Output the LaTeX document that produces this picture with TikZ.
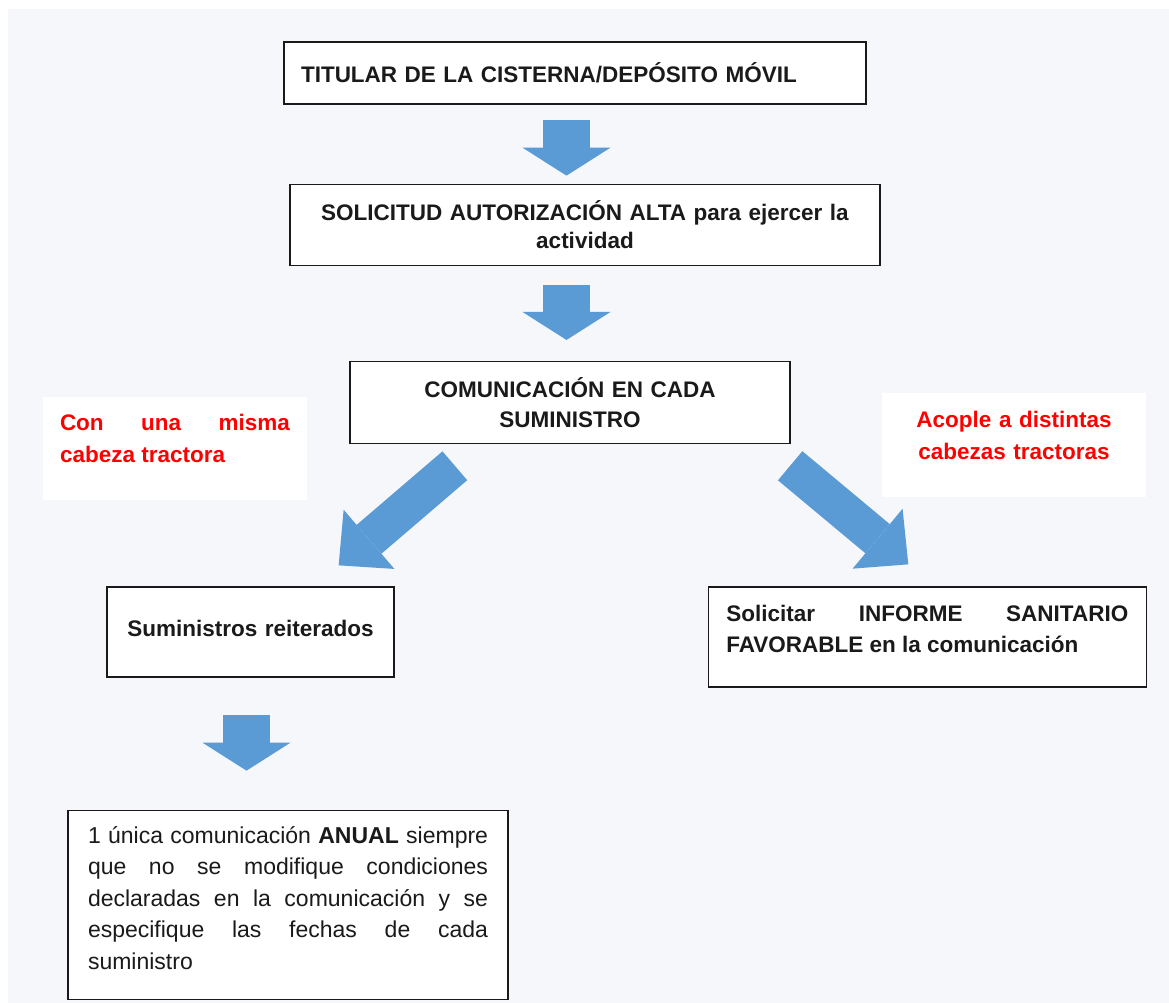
\documentclass[tikz,border=0pt]{standalone}
\usepackage{fontspec}
\setmainfont{Liberation Sans}
\usetikzlibrary{positioning, arrows.meta}

\definecolor{arrowblue}{RGB}{91,155,213}
\definecolor{panelgray}{RGB}{245,247,251}
\definecolor{notered}{RGB}{255,0,0}
\definecolor{inkblack}{RGB}{26,26,26}

\newcommand{\padbelow}[1]{\rule[-#1]{0pt}{#1}}

\begin{document}
\begin{tikzpicture}[x=1pt, y=-1pt,
    every node/.style={inner ysep=0pt},
    box/.style={draw=inkblack, line width=1.3pt, fill=white, inner xsep=17pt, text=inkblack, font=\fontsize{23}{31.5}\selectfont},
    strongbox/.style={box, font=\fontsize{22.5}{30}\selectfont\bfseries},
    note/.style={fill=white, inner xsep=17pt, text=notered, text width=230pt, minimum height=103pt, font=\fontsize{22.5}{32}\selectfont\bfseries},
    downarrow/.style={draw=arrowblue, line width=47pt, -{Triangle[length=28pt 0, width=88pt 0, line width=0pt 0, fill=arrowblue]}},
    sidearrow/.style={draw=arrowblue, line width=38pt, -{Triangle[length=40pt 0, width=78pt 0, line width=0pt 0, fill=arrowblue]}}]

\useasboundingbox (0,0) rectangle (1169,1003);
\fill[white] (0,0) rectangle (1169,1003);
\fill[panelgray] (8,9) rectangle (1169,1003);

% main column
\node[strongbox, text width=548pt, minimum height=62pt, align=left] (titular) at (575,73) {TITULAR DE LA CISTERNA/DEPÓSITO MÓVIL};
\node[strongbox, text width=556pt, minimum height=81pt, align=center, font=\fontsize{22.5}{28}\selectfont\bfseries, below=79pt of titular, xshift=10pt] (solicitud) {SOLICITUD AUTORIZACIÓN ALTA para ejercer la\\actividad};
\node[strongbox, text width=406pt, minimum height=82pt, align=center, below=95pt of solicitud, xshift=-15pt] (comunicacion) {COMUNICACIÓN EN CADA\\SUMINISTRO};

% the two branches
\node[strongbox, text width=253pt, minimum height=90pt, align=center] (reiterados) at (250.5,632) {Suministros reiterados\padbelow{8pt}};
\node[strongbox, inner xsep=18pt, text width=402pt, minimum height=100pt, align=justify, font=\fontsize{22.5}{31}\selectfont\bfseries, right=313pt of reiterados, yshift=-5pt] (informe) {Solicitar INFORME SANITARIO\linebreak FAVORABLE en la comunicación\padbelow{16pt}};
\node[box, inner xsep=20pt, text width=400pt, minimum height=189pt, align=justify, below=132pt of reiterados, xshift=37.5pt] (anual) {1 única comunicación \textbf{ANUAL} siempre\linebreak que no se modifique condiciones\linebreak declaradas en la comunicación y se\linebreak especifique las fechas de cada\linebreak suministro\padbelow{14pt}};

% red notes
\node[note, align=justify] (mismacabeza) at (175,448.5) {Con una misma\linebreak cabeza tractora\padbelow{20pt}};
\node[note, align=center, minimum height=104pt] (distintas) at (1014,445) {Acople a distintas\\cabezas tractoras\padbelow{19pt}};

% block arrows
\draw[downarrow] ([xshift=-8.5pt, yshift=-15pt]titular.south) -- ([xshift=-18.5pt, yshift=8pt]solicitud.north);
\draw[downarrow] ([xshift=-18.5pt, yshift=-19pt]solicitud.south) -- ([xshift=-3.5pt, yshift=21pt]comunicacion.north);
\draw[sidearrow] ([xshift=105.5pt, yshift=-21.5pt]comunicacion.south west) -- ([xshift=-56pt, yshift=21pt]reiterados.north east);
\draw[sidearrow] ([xshift=-0.5pt, yshift=-21.5pt]comunicacion.south east) -- ([xshift=-19pt, yshift=22pt]informe.north);
\draw[downarrow] ([xshift=-4pt, yshift=-37pt]reiterados.south) -- ([xshift=-41.5pt, yshift=39pt]anual.north);

\end{tikzpicture}
\end{document}
